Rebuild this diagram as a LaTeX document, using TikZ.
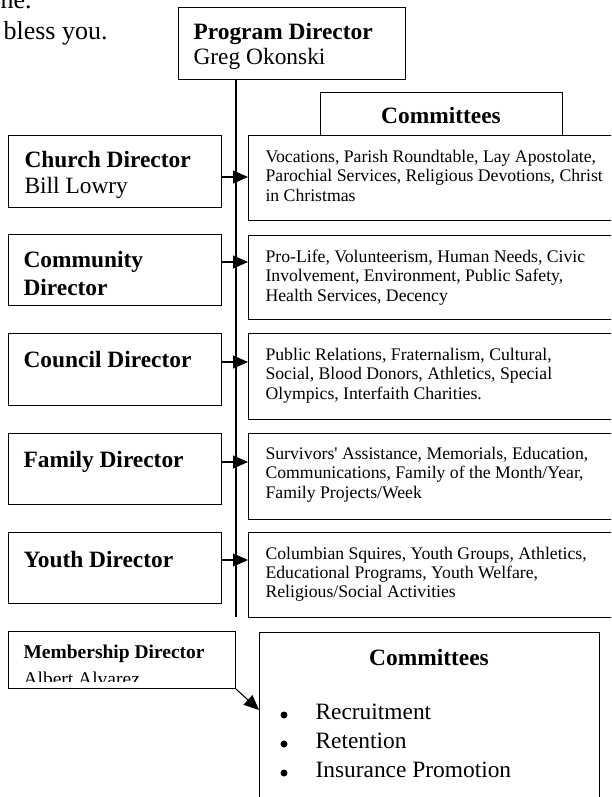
\documentclass[tikz,border=0pt]{standalone}
\usepackage{fontspec}
\setmainfont{Liberation Serif}[Ligatures=TeXOff]
\usetikzlibrary{arrows.meta}
\begin{document}
\begin{tikzpicture}[x=1pt,y=-1pt, line width=1.1pt,
  box/.style={draw, rectangle, inner sep=0pt, anchor=north west},
  bigb/.style={font=\fontsize{23.4}{28}\selectfont\bfseries, anchor=base west, inner sep=0pt},
  nm/.style={font=\fontsize{23.4}{28}\selectfont, anchor=base west, inner sep=0pt},
  sm/.style={font=\fontsize{17.7}{19.5}\selectfont, anchor=base west, inner sep=0pt},
  body/.style={font=\fontsize{26}{30}\selectfont, anchor=base west, inner sep=0pt},
  memb/.style={font=\fontsize{19.5}{23}\selectfont\bfseries, anchor=base west, inner sep=0pt},
  memn/.style={font=\fontsize{19.5}{23}\selectfont, anchor=base west, inner sep=0pt},
  dot/.style={circle, fill, inner sep=0pt, minimum size=7pt},
  arr/.style={-{Triangle[length=15pt,width=13pt]}, line width=1.1pt},
]
\useasboundingbox (0,0) rectangle (611,797);
\clip (0,0) rectangle (611,797);

% top-left stray text
\node[body] (ne) at (0,9) {ne.};
\node[body] (bless) at (3,40) {bless you.};

% program director
\node[box, minimum width=227pt, minimum height=72pt] (prog) at (178,7) {};
\node[bigb] (progt) at (193,40) {Program Director};
\node[nm] (progn) at (193,65) {Greg Okonski};

% committees header
\node[box, minimum width=242pt, minimum height=43pt] (hdr) at (320,92) {};
\node[bigb, anchor=base] (hdrt) at (441,124) {Committees};

% right boxes
\node[box, minimum width=402pt, minimum height=85pt] (r1) at (248,135) {};
\node[box, minimum width=402pt, minimum height=84pt] (r2) at (248,235) {};
\node[box, minimum width=402pt, minimum height=86pt] (r3) at (248,333) {};
\node[box, minimum width=402pt, minimum height=86pt] (r4) at (248,433) {};
\node[box, minimum width=402pt, minimum height=85pt] (r5) at (248,532) {};

% left boxes
\node[box, minimum width=213pt, minimum height=72pt] (l1) at (8,135) {};
\node[box, minimum width=213pt, minimum height=71pt] (l2) at (8,234) {};
\node[box, minimum width=213pt, minimum height=72pt] (l3) at (8,333) {};
\node[box, minimum width=213pt, minimum height=71pt] (l4) at (8,433) {};
\node[box, minimum width=213pt, minimum height=71pt] (l5) at (8,532) {};

% left texts
\node[bigb] (l1t) at (24,167) {Church Director};
\node[nm] (l1n) at (24,193) {Bill Lowry};
\node[bigb] (l2t) at (23,267) {Community};
\node[bigb] (l2u) at (23,295) {Director};
\node[bigb] (l3t) at (23,367) {Council Director};
\node[bigb] (l4t) at (23,467) {Family Director};
\node[bigb] (l5t) at (23,567) {Youth Director};

% right texts
\node[sm] (r1a) at (265,162) {Vocations, Parish Roundtable, Lay Apostolate,};
\node[sm] (r1b) at (265,181.5) {Parochial Services, Religious Devotions, Christ};
\node[sm] (r1c) at (265,201) {in Christmas};
\node[sm] (r2a) at (265,262) {Pro-Life, Volunteerism, Human Needs, Civic};
\node[sm] (r2b) at (265,281.5) {Involvement, Environment, Public Safety,};
\node[sm] (r2c) at (265,301) {Health Services, Decency};
\node[sm] (r3a) at (265,360) {Public Relations, Fraternalism, Cultural,};
\node[sm] (r3b) at (265,379.5) {Social, Blood Donors, Athletics, Special};
\node[sm] (r3c) at (265,399) {Olympics, Interfaith Charities.};
\node[sm] (r4a) at (265,459) {Survivors' Assistance, Memorials, Education,};
\node[sm] (r4b) at (265,478.5) {Communications, Family of the Month/Year,};
\node[sm] (r4c) at (265,498) {Family Projects/Week};
\node[sm] (r5a) at (265,559) {Columbian Squires, Youth Groups, Athletics,};
\node[sm] (r5b) at (265,578.5) {Educational Programs, Youth Welfare,};
\node[sm] (r5c) at (265,597) {Religious/Social Activities};

% vertical line
\coordinate (vend) at (236,617);
\draw (prog.south -| vend) -- (vend);

% arrows
\coordinate (a1) at (0,177);
\coordinate (a2) at (0,262);
\coordinate (a3) at (0,362);
\coordinate (a4) at (0,462);
\coordinate (a5) at (0,560);
\draw[arr] (l1.east |- a1) -- (r1.west |- a1);
\draw[arr] (l2.east |- a2) -- (r2.west |- a2);
\draw[arr] (l3.east |- a3) -- (r3.west |- a3);
\draw[arr] (l4.east |- a4) -- (r4.west |- a4);
\draw[arr] (l5.east |- a5) -- (r5.west |- a5);

% membership
\node[box, minimum width=227pt, minimum height=57pt] (mem) at (8,631) {};
\begin{scope}
  \clip (8,631) rectangle (235,681);
  \node[memb] (memt) at (23,658) {Membership Director};
  \node[memn] (memn) at (23,685) {Albert Alvarez};
\end{scope}

% big committees box
\node[box, minimum width=340pt, minimum height=200pt] (cbig) at (259,632) {};
\node[bigb, anchor=base] (cbigt) at (429,665) {Committees};
\node[dot] (b1) at (284,715) {};
\node[dot] (b2) at (284,744) {};
\node[dot] (b3) at (284,773) {};
\node[nm] (c1) at (315,719) {Recruitment};
\node[nm] (c2) at (315,748) {Retention};
\node[nm] (c3) at (315,777) {Insurance Promotion};

\coordinate (a6) at (0,710);
\draw[arr] (mem.south east) -- (cbig.west |- a6);
\end{tikzpicture}
\end{document}
